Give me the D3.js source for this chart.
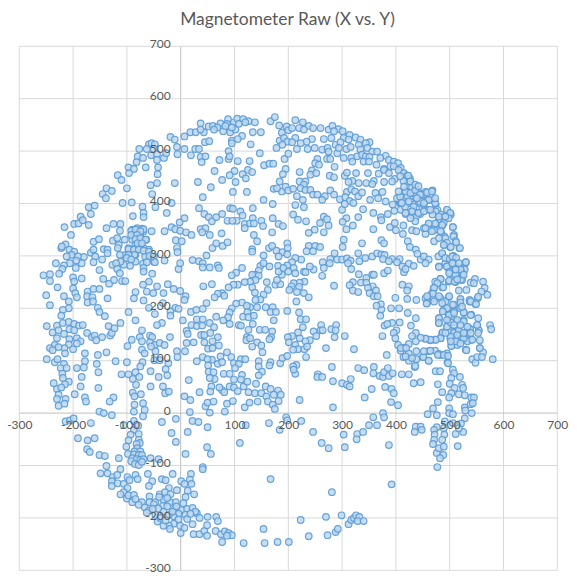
<!DOCTYPE html>
<html><head><meta charset="utf-8">
<script src="https://cdn.jsdelivr.net/npm/d3@7/dist/d3.min.js"></script>
<style>html,body{margin:0;padding:0;background:#fff}svg{display:block}</style>
</head><body><div id="chart"></div>
<script>
const chartTitle = "Magnetometer Raw (X vs. Y)";
const xTicks = [-300,-200,-100,0,100,200,300,400,500,600,700];
const yTicks = [-300,-200,-100,0,100,200,300,400,500,600,700];

const upperNorthWest = [[37,553],[7,528],[18,536],[28,536],[43,536],[37,541],[52,547],[60,548],[74,553],[88,561],[99,555],[105,562],[116,561],[126,557],[138,555],[167,557],[175,565],[183,549],[197,547],[134,536],[149,536],[-19,527],[-11,522],[-7,508],[-6,494],[7,504],[19,492],[27,504],[34,504],[37,489],[46,490],[39,479],[45,517],[53,519],[79,538],[92,536],[102,541],[114,529],[95,520],[106,523],[95,515],[130,513],[89,500],[89,485],[91,490],[72,483],[106,481],[128,481],[147,496],[155,473],[165,476],[172,476],[178,506],[184,520],[193,485],[200,495],[195,466],[190,456],[63,462],[100,462],[91,454],[125,464],[133,460],[115,456],[121,448],[77,445],[102,441],[32,441],[56,431],[-11,439],[97,422],[123,422],[41,412],[154,407],[184,442],[173,428],[188,423],[179,429],[195,432],[200,425],[-77,504],[-59,513],[-54,515],[-48,513],[-63,504],[-50,504],[-80,490],[-55,492],[-44,494],[-44,483],[-31,487],[-27,496],[-70,487],[-82,479],[-97,469],[-87,466],[-96,458],[-65,469],[-42,469],[-43,456],[-117,454],[-110,445],[-44,439],[-56,435],[-100,429],[-138,429],[-128,424],[-145,418],[-139,410],[-53,418],[188,535],[192,525],[200,540],[198,518],[189,512],[86,552],[68,545],[62,541],[95,545],[108,552],[120,555],[83,548]];

const upperNorthEast = [[213,559],[227,555],[238,548],[246,544],[260,544],[207,544],[220,544],[229,541],[275,541],[282,548],[293,542],[301,538],[314,531],[325,526],[334,522],[351,517],[344,515],[285,538],[303,525],[312,522],[266,523],[280,525],[244,523],[234,518],[213,525],[223,515],[207,517],[216,504],[236,504],[249,506],[263,503],[273,506],[275,499],[288,512],[297,517],[291,496],[294,506],[308,504],[316,508],[331,512],[334,503],[347,506],[356,499],[365,499],[381,491],[371,487],[387,483],[396,480],[404,477],[303,487],[317,487],[328,490],[337,493],[344,490],[351,489],[319,480],[340,480],[350,480],[364,474],[378,466],[390,471],[409,468],[396,471],[405,464],[286,470],[254,485],[250,477],[272,485],[278,485],[257,474],[244,463],[241,455],[252,458],[221,460],[277,453],[285,450],[305,453],[309,459],[326,458],[348,458],[368,457],[378,464],[387,458],[415,458],[421,453],[426,448],[422,442],[414,443],[398,447],[393,442],[378,441],[359,443],[345,439],[356,437],[331,439],[319,443],[312,441],[221,442],[232,442],[229,436],[223,429],[209,428],[232,426],[241,426],[246,417],[254,417],[268,414],[278,425],[285,417],[263,407],[296,408],[309,422],[317,427],[306,412],[314,405],[321,401],[324,423],[330,414],[337,421],[362,420],[375,422],[367,410],[381,404],[352,407],[394,398],[407,401],[397,386],[409,388],[418,380],[430,379],[445,380],[216,414],[227,407],[213,397],[229,393],[300,388],[305,399],[339,389],[358,382],[385,380],[372,374],[373,368],[209,379],[218,369],[233,366],[266,375],[272,370],[259,363],[275,358],[249,350],[238,344],[266,345],[308,372],[301,365],[320,358],[330,374],[308,351],[358,351],[389,355],[398,363],[414,358],[400,349],[413,342],[430,349],[438,347],[452,353],[455,342],[461,361],[475,361],[486,358],[471,349],[484,345],[506,355],[508,340],[490,337],[471,328]];

const upperEastCluster = [[409,414],[418,423],[430,431],[443,420],[455,422],[468,425],[415,407],[427,414],[438,410],[449,405],[459,407],[468,407],[474,398],[461,388],[449,391],[433,398],[424,401],[409,402],[417,394],[430,385],[440,382],[437,374],[477,388],[483,379],[492,375],[502,379],[495,388],[480,369],[489,363],[437,429],[421,414],[433,420],[449,417],[464,417],[402,410],[443,401],[452,398],[474,385],[468,379]];

const denseNorthEast = [[408,413],[418,423],[427,420],[436,426],[445,417],[458,421],[467,423],[411,401],[424,404],[433,394],[445,404],[461,407],[473,401],[464,388],[430,385],[442,382],[418,382],[436,366],[427,372],[480,375],[495,388],[501,382],[498,372],[473,362],[486,359],[461,362],[483,347],[467,347],[492,334],[506,355],[507,337],[480,334],[501,317],[490,321],[518,315],[511,328],[455,353],[408,452],[423,453],[427,442],[436,436],[442,433],[415,432],[405,423],[473,410],[452,401],[439,410],[452,385],[492,375],[492,286],[504,293],[511,280],[498,277],[480,280],[486,305],[526,280],[530,288],[507,300]];

const denseEast = [[495,280],[501,270],[514,273],[526,277],[508,261],[523,264],[498,251],[511,250],[523,254],[483,256],[473,251],[470,238],[486,240],[467,229],[455,219],[461,216],[470,219],[458,210],[483,219],[498,221],[492,213],[508,207],[520,216],[537,213],[548,208],[552,219],[489,197],[498,200],[508,194],[520,200],[526,192],[540,188],[498,188],[480,181],[498,178],[511,175],[526,178],[480,172],[495,165],[508,156],[537,161],[551,168],[554,158],[486,153],[517,153],[501,143],[511,140],[526,140],[539,140],[483,143],[503,129],[514,130],[530,121],[556,124],[473,140],[464,139],[455,142],[473,119],[461,118],[450,107],[483,111],[495,114],[461,100],[496,97],[480,113]];

const denseWest = [[-90,350],[-81,353],[-72,352],[-69,347],[-87,340],[-75,340],[-90,331],[-81,331],[-72,331],[-64,331],[-84,321],[-75,322],[-97,315],[-87,313],[-78,313],[-69,315],[-59,312],[-84,302],[-66,299],[-50,289],[-93,296],[-103,302]];

const middleEast = [[303,331],[301,317],[337,324],[373,330],[378,324],[422,328],[426,317],[437,312],[440,304],[238,319],[250,319],[259,317],[234,309],[246,309],[286,305],[330,305],[343,296],[356,299],[365,305],[373,303],[379,302],[393,294],[407,294],[278,294],[291,293],[300,293],[309,295],[316,291],[332,290],[376,294],[387,290],[402,288],[412,280],[424,285],[433,281],[446,293],[452,299],[461,293],[455,286],[479,299],[486,305],[492,296],[480,279],[500,294],[505,299],[512,296],[519,315],[512,326],[495,325],[489,321],[502,317],[530,288],[508,286],[517,286],[528,274],[523,267],[495,280],[500,270],[511,264],[499,253],[509,251],[521,255],[539,249],[547,256],[562,251],[545,248],[565,239],[570,226],[559,232],[517,234],[531,235],[483,256],[477,248],[488,240],[471,239],[469,228],[458,223],[499,223],[480,223],[520,218],[553,222],[537,216],[421,218],[438,216],[399,220],[412,245],[424,242],[421,234],[331,265],[356,264],[345,258],[359,264],[335,249],[345,249],[320,250],[314,244],[357,242],[348,239],[363,234],[320,234],[330,231],[285,243],[351,229],[359,223],[366,223],[378,267],[385,272],[415,269],[418,275],[317,275],[311,286],[264,288],[277,286],[266,277],[263,262],[247,274],[240,280],[229,270],[224,293],[213,296],[207,288],[210,277],[213,267],[232,269],[230,251],[221,249],[210,248],[220,241],[206,242],[216,231],[229,229],[238,221],[505,286],[499,267],[520,274],[511,274],[526,264],[514,255]];

const lowerEast = [[215,213],[220,192],[223,179],[233,179],[227,164],[261,168],[247,156],[260,158],[264,158],[252,147],[280,160],[289,168],[288,158],[286,145],[305,147],[240,139],[232,137],[221,143],[218,154],[207,147],[213,130],[218,122],[230,122],[235,127],[209,121],[233,107],[270,124],[322,122],[215,92],[209,89],[213,75],[210,83],[281,88],[255,74],[254,69],[263,69],[283,61],[300,57],[309,54],[314,51],[316,65],[330,86],[341,82],[359,88],[358,76],[370,71],[376,69],[378,78],[385,86],[387,71],[394,76],[411,74],[424,74],[435,88],[436,90],[474,80],[482,80],[506,83],[508,76],[519,69],[503,67],[433,57],[446,59],[478,55],[500,56],[509,48],[523,54],[525,48],[486,40],[503,38],[517,36],[528,34],[499,30],[540,30],[545,30],[355,46],[380,50],[392,46],[396,38],[342,30],[478,21],[391,21],[404,15],[283,11],[221,25],[469,9],[528,11],[529,5],[539,17],[543,19],[499,9],[459,-2],[476,-4],[499,0],[506,-2],[541,0],[528,-10],[376,0],[378,-8],[358,-8],[224,-15],[350,-23],[365,-23],[246,-36],[303,-41],[328,-40],[339,-36],[327,-50],[305,-65],[262,-57],[275,-67],[387,-61],[437,-26],[446,-26],[435,-36],[448,-32],[491,-16],[506,-19],[521,-20],[476,-27],[471,-32],[489,-29],[511,-40],[525,-36],[517,-29],[472,-41],[490,-41],[471,-51],[469,-59],[486,-51],[515,-63],[476,-76],[480,-67],[488,-80],[482,-86],[489,-64],[477,-103],[392,-136],[281,-151]];

const rightEdge = [[575,168],[577,160],[580,103],[562,116],[556,124],[556,139],[554,158],[553,153],[551,168],[553,181],[539,187],[538,160],[533,137],[531,120],[520,141],[526,143],[511,140],[508,153],[517,158],[526,175],[512,174],[502,181],[495,165],[480,181],[480,172],[487,154],[483,143],[474,140],[464,140],[455,142],[446,144],[437,153],[430,147],[437,137],[424,132],[415,125],[404,130],[409,119],[414,107],[424,100],[424,114],[438,118],[438,103],[451,107],[461,100],[464,119],[478,111],[489,111],[497,109],[497,95],[503,128],[511,137],[542,103],[548,96],[551,107],[560,107],[531,153],[542,140],[452,118],[418,108],[430,105],[407,173],[393,172],[379,167],[375,147],[371,186],[373,198],[372,208],[364,205],[391,200],[406,200],[422,191],[437,181],[428,167],[384,170],[401,158],[396,153],[399,143],[383,111],[409,124],[419,124],[457,209],[471,213],[486,210],[495,200],[506,207],[520,211],[539,213],[549,208],[487,194],[499,187],[508,191],[514,178],[526,192],[523,203],[502,173],[495,178],[508,168],[520,168],[533,165],[526,153],[514,149],[502,146],[492,153],[520,133],[539,153],[502,137]];

const westCluster = [[-171,393],[-160,396],[-167,380],[-186,375],[-198,361],[-190,362],[-182,368],[-171,359],[-216,355],[-204,340],[-138,353],[-125,361],[-112,361],[-113,348],[-108,401],[-91,402],[-71,394],[-47,393],[-89,376],[-69,382],[-69,374],[-26,382],[-17,401],[7,372],[-2,364],[-17,355],[-10,351],[-30,347],[-1,348],[10,345],[20,340],[-54,347],[-92,348],[-84,350],[-69,351],[-75,347],[-92,340],[-81,340],[-84,332],[-75,334],[-65,331],[-80,324],[-72,324],[-97,313],[-87,312],[-78,312],[-69,310],[-59,308],[-86,302],[-97,302],[-100,296],[-84,289],[-70,285],[-63,288],[-58,300],[-50,299],[-48,288],[-30,291],[-92,293],[-94,281],[-106,283],[-113,302],[-112,289],[-162,327],[-152,332],[-126,329],[-118,334],[-104,331],[-115,321],[-143,313],[-136,312],[-117,315],[-167,306],[-162,312],[-222,315],[-214,322],[-221,318],[-207,312],[-198,308],[-203,302],[-212,299],[-180,298],[-191,299],[-159,299],[-146,293],[-136,305],[-162,288],[-184,286],[-194,291],[-206,286],[-217,282],[-232,286],[-220,275],[-226,266],[-195,277],[-151,273],[-127,283],[-120,286],[-118,275],[-113,267],[-255,263],[-243,265],[-243,252],[-229,240],[-200,259],[-198,251],[-184,257],[-200,238],[-250,225],[-243,206],[-217,223],[-208,213],[-196,229],[-193,221],[-208,200],[-173,232],[-162,237],[-151,237],[-174,223],[-164,221],[-173,211],[-163,213],[-136,219],[-144,256],[-133,247],[-124,254],[-109,252],[-103,252],[-154,201],[-151,193],[-141,185],[-219,197],[-222,186],[-97,193],[-84,177],[-112,172],[-69,277],[-69,270],[-53,266],[-59,251],[-70,245],[-63,232],[-51,229],[-44,242],[-32,229],[-84,231],[-87,219],[-69,215],[-59,201],[-48,189],[-33,210],[-24,246],[-13,237],[-1,233],[9,223],[7,216],[-10,201],[-4,199],[-19,194],[-19,186],[4,177],[-35,172],[-44,168],[-72,158],[-20,145],[-57,148],[-53,145],[11,157],[13,151],[-91,140],[-76,145],[-72,137],[-57,135],[-48,130],[-39,134],[-30,130],[-99,128],[-72,121],[-67,114],[-47,118],[-55,127],[-7,118],[-6,107],[8,118],[11,134],[24,135],[-49,101],[-39,101],[-23,95],[-71,97],[-75,89],[-100,97],[-121,99],[-138,116],[-154,111],[-156,94],[-153,78],[-178,114],[-178,99],[-180,87],[-193,86],[-184,69],[-186,51],[-153,48],[-197,36],[-178,30],[-125,30]];

const southWestBand = [[-249,166],[-238,154],[-230,167],[-227,158],[-219,172],[-208,174],[-198,170],[-189,167],[-182,168],[-207,160],[-198,158],[-217,151],[-230,143],[-207,141],[-193,143],[-186,137],[-193,133],[-174,153],[-165,145],[-160,148],[-157,139],[-146,145],[-131,148],[-128,153],[-134,166],[-123,162],[-208,131],[-200,122],[-216,124],[-215,114],[-234,130],[-243,124],[-238,120],[-227,126],[-249,103],[-234,97],[-229,103],[-217,94],[-223,86],[-212,86],[-220,75],[-219,67],[-208,60],[-236,57],[-215,55],[-230,46],[-222,49],[-227,35],[-230,27],[-214,27],[-110,74],[-97,74],[-84,78],[-89,65],[-77,69],[-83,54],[-56,51],[-56,80],[-41,69],[-28,84],[-25,72],[-33,51],[15,63],[-89,39],[-74,36],[-86,32],[-29,38],[-22,41],[35,40],[7,32],[18,25]];

const centerField = [[22,292],[34,290],[41,286],[41,278],[54,278],[69,282],[71,277],[-4,275],[-1,286],[-7,315],[-6,307],[-9,330],[2,328],[34,391],[44,380],[52,374],[58,366],[66,374],[77,380],[87,367],[92,391],[97,390],[111,385],[115,377],[104,367],[96,367],[134,391],[171,399],[119,361],[129,362],[119,353],[134,372],[136,362],[150,367],[153,357],[171,372],[182,361],[190,357],[170,345],[136,340],[142,328],[37,351],[46,353],[40,345],[54,340],[76,343],[59,315],[66,324],[78,319],[87,326],[48,301],[133,313],[133,308],[154,301],[164,315],[170,319],[178,310],[189,307],[182,299],[198,324],[199,315],[198,303],[148,281],[154,286],[165,280],[181,281],[198,282],[145,272],[139,264],[133,264],[145,262],[139,254],[129,251],[119,250],[114,277],[103,268],[95,263],[106,245],[98,245],[89,240],[77,229],[69,228],[63,221],[81,224],[42,242],[58,246],[133,240],[138,230],[160,250],[162,235],[154,226],[148,217],[139,216],[142,202],[129,202],[114,211],[103,209],[95,200],[91,192],[88,183],[116,184],[124,193],[123,205],[126,183],[136,186],[158,202],[171,202],[167,193],[177,193],[173,177],[198,195],[176,245],[185,246],[179,254],[188,264],[182,270],[191,277],[200,270],[202,235],[19,193],[29,197],[41,199],[48,210],[30,179],[41,179],[20,168],[30,166],[40,167],[54,172],[62,164],[66,184],[79,177],[91,170],[108,168],[112,167],[38,149],[44,149],[55,153],[69,145],[44,135],[59,137],[51,123],[71,129],[59,124],[86,116],[74,108],[41,107],[58,102],[50,103],[30,99],[51,91],[69,94],[77,97],[94,107],[99,95],[112,103],[120,103],[108,94],[126,159],[134,170],[147,159],[157,159],[170,156],[168,145],[165,141],[123,145],[122,139],[129,143],[142,135],[133,127],[150,129],[152,116],[199,145],[201,135],[145,99],[145,89],[151,79],[145,72],[167,97],[165,91],[185,95],[189,105],[198,109],[52,79],[61,78],[63,65],[54,67],[80,75],[91,75],[101,86],[114,73],[112,64],[99,64],[91,51],[77,44],[72,49],[57,51],[55,41],[81,40],[99,49],[106,42],[117,51],[124,60],[126,40],[140,56],[138,38],[150,38],[158,51],[167,46],[181,43],[173,35],[159,32],[186,35]];

const nearAxis = [[-227,14],[-216,18],[-176,22],[-132,22],[-86,16],[-70,19],[-87,3],[-67,6],[-151,3],[-143,0],[-128,-4],[-70,-6],[-214,-16],[-206,-14],[-199,-10],[-167,-19],[-87,-15],[-106,-23],[-79,-24],[-87,-32],[-35,-17],[-9,-11],[17,2],[54,1],[22,-15],[33,-17],[50,-27],[82,3],[86,18],[46,13],[50,20],[61,22],[97,23],[119,11],[128,20],[143,22],[162,22],[171,16],[175,8],[182,23],[196,-8],[198,-14],[121,-23],[164,-19],[184,-32],[110,-57],[-17,-38],[13,-36],[-9,-55],[-191,-48],[-173,-52],[-160,-48],[-174,-69],[-169,-74],[-151,-80],[-141,-82],[-115,-86],[9,-78],[49,-65],[56,-78],[41,-103],[41,-107],[-56,-86],[-41,-88]];

const hookCluster = [[-93,-41],[-78,-40],[-97,-52],[-78,-51],[-101,-64],[-76,-57],[-82,-59],[-81,-67],[-86,-73],[-75,-73],[-98,-78],[-87,-79],[-78,-80],[-72,-80],[-90,-86],[-82,-88],[-75,-89],[-69,-88],[-92,-92],[-85,-97],[-78,-99],[-72,-93]];

const southBand = [[-138,-101],[-112,-107],[-149,-115],[-136,-115],[-126,-122],[-118,-118],[-128,-130],[-128,-139],[-117,-134],[-106,-135],[-99,-122],[-95,-128],[-84,-118],[-80,-126],[-61,-116],[-53,-130],[-59,-139],[-15,-116],[-35,-126],[-28,-128],[19,-116],[17,-127],[1,-130],[7,-135],[20,-135],[-22,-143],[-7,-147],[13,-148],[25,-155],[9,-160],[-99,-143],[-106,-151],[-112,-155],[-100,-163],[-97,-157],[-87,-156],[-90,-170],[-84,-164],[-72,-170],[-58,-159],[-58,-170],[-39,-155],[-29,-151],[-19,-155],[-47,-170],[-32,-165],[-50,-174],[-33,-177],[-20,-170],[-9,-170],[-67,-180],[-59,-186],[-63,-190],[-32,-188],[-47,-194],[-43,-207],[-11,-183],[2,-185],[12,-183],[22,-181],[30,-191],[35,-200],[27,-188],[-4,-192],[-13,-197],[-22,-194],[9,-194],[-4,-203],[12,-202],[-13,-211],[-22,-215],[-32,-215],[-20,-221],[-1,-215],[7,-219],[22,-212],[0,-229],[24,-231],[35,-231],[44,-225],[49,-214],[49,-234],[50,-198],[66,-198],[69,-206],[65,-225],[75,-231],[82,-226],[89,-229],[95,-233],[86,-234],[77,-246],[117,-248],[154,-221],[156,-248],[180,-246],[201,-246],[167,-126],[270,-198],[299,-195],[223,-204],[238,-235],[273,-233],[288,-227],[292,-221],[312,-212],[317,-204],[322,-200],[326,-195],[332,-198],[329,-206],[340,-206],[-40,-160],[-25,-162],[-42,-182],[-25,-178],[-15,-188],[-38,-200],[-28,-205],[-8,-178],[5,-172],[18,-192],[-52,-183],[-78,-175]];

const allGroups = [upperNorthWest, upperNorthEast, upperEastCluster, denseNorthEast, denseEast, denseWest, middleEast, lowerEast, rightEdge, westCluster, southWestBand, centerField, nearAxis, hookCluster, southBand];

const W = 577, H = 584;
const svg = d3.select("#chart").append("svg").attr("width", W).attr("height", H);
const x = d3.scaleLinear().domain([-300,700]).range([19.3,557.3]);
const y = d3.scaleLinear().domain([-300,700]).range([570.3,46.3]);
const font = "Lato, 'Open Sans', sans-serif";
const ink = "#595959";

svg.append("text").attr("x",287.5).attr("y",25).attr("text-anchor","middle")
  .attr("font-family",font).attr("font-size",17.4).attr("fill",ink).text(chartTitle);

const grid = svg.append("g");
grid.selectAll("line.v").data(xTicks).join("line").attr("class","v")
  .attr("x1",d=>x(d)).attr("x2",d=>x(d)).attr("y1",y(700)).attr("y2",y(-300))
  .attr("stroke",d=>d===0?"#bfbfbf":"#d9d9d9").attr("stroke-width",1);
grid.selectAll("line.h").data(yTicks).join("line").attr("class","h")
  .attr("y1",d=>y(d)).attr("y2",d=>y(d)).attr("x1",x(-300)).attr("x2",x(700))
  .attr("stroke",d=>d===0?"#bfbfbf":"#d9d9d9").attr("stroke-width",1);

const points = allGroups.flat();
svg.append("g").selectAll("circle").data(points).join("circle")
  .attr("cx",d=>x(d[0])).attr("cy",d=>y(d[1])).attr("r",3.3)
  .attr("fill","#bdd7ee").attr("fill-opacity",0.85)
  .attr("stroke","#5b9bd5").attr("stroke-opacity",0.9).attr("stroke-width",1.2);

const fmt = d => String(d);
const xAxis = d3.axisBottom(x).tickValues(xTicks).tickSize(0).tickPadding(7).tickFormat(fmt);
const gx = svg.append("g").attr("transform",`translate(0,${y(0)})`).call(xAxis);
const yAxis = d3.axisLeft(y).tickValues(yTicks).tickSize(0).tickPadding(10).tickFormat(fmt);
const gy = svg.append("g").attr("transform",`translate(${x(0)},0)`).call(yAxis);
[gx,gy].forEach(g=>{
  g.select(".domain").remove();
  g.selectAll("text").attr("font-family",font).attr("font-size",12).attr("fill",ink);
});
gx.selectAll(".tick").filter(d=>d===0).select("text").remove();
gy.selectAll(".tick text").attr("dy","0.1em");
</script></body></html>
